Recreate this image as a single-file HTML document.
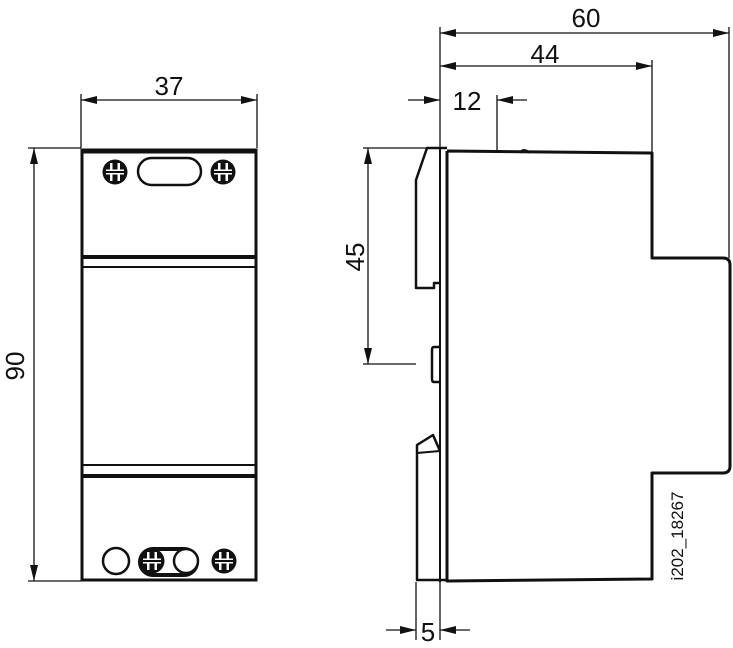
<!DOCTYPE html>
<html><head><meta charset="utf-8"><style>
html,body{margin:0;padding:0;background:#fff;}
svg{display:block;}
text{font-family:"Liberation Sans",Arial,sans-serif;fill:#111;}
</style></head><body>
<svg width="733" height="648" viewBox="0 0 733 648" xmlns="http://www.w3.org/2000/svg">
<defs>
<marker id="a" viewBox="0 0 16 8" refX="16" refY="4" markerWidth="16" markerHeight="8" markerUnits="userSpaceOnUse" orient="auto-start-reverse"><path d="M0,0 L16,4 L0,8 z" fill="#111"/></marker>
<g id="s">
<circle cx="0" cy="0" r="12.5" fill="#111"/>
<rect x="-9" y="-2.5" width="18" height="5" fill="#fff"/>
<rect x="-5" y="-9" width="2.5" height="18" fill="#fff"/>
<rect x="2.5" y="-9" width="2.5" height="18" fill="#fff"/>
<rect x="-9" y="-1" width="18" height="2" fill="#111"/>
</g>
</defs>
<g stroke="#111" stroke-width="1.3" fill="none">
<line x1="81" y1="94" x2="81" y2="148"/>
<line x1="257" y1="94" x2="257" y2="148"/>
<line x1="81" y1="100" x2="257" y2="100" marker-start="url(#a)" marker-end="url(#a)"/>
<line x1="28" y1="148" x2="81" y2="148"/>
<line x1="28" y1="581" x2="81" y2="581"/>
<line x1="34" y1="148" x2="34" y2="581" marker-start="url(#a)" marker-end="url(#a)"/>
<line x1="440" y1="27" x2="440" y2="148"/>
<line x1="729" y1="27" x2="729" y2="258"/>
<line x1="440" y1="33" x2="729" y2="33" marker-start="url(#a)" marker-end="url(#a)"/>
<line x1="652" y1="60" x2="652" y2="153"/>
<line x1="440" y1="66" x2="652" y2="66" marker-start="url(#a)" marker-end="url(#a)"/>
<line x1="497" y1="95" x2="497" y2="150"/>
<line x1="408" y1="100" x2="440" y2="100" marker-end="url(#a)"/>
<line x1="527" y1="100" x2="497" y2="100" marker-end="url(#a)"/>
<line x1="363" y1="148" x2="427" y2="148"/>
<line x1="363" y1="364" x2="416" y2="364"/>
<line x1="368" y1="148" x2="368" y2="364" marker-start="url(#a)" marker-end="url(#a)"/>
<line x1="416" y1="582" x2="416" y2="640"/>
<line x1="440" y1="582" x2="440" y2="640"/>
<line x1="386" y1="630" x2="416" y2="630" marker-end="url(#a)"/>
<line x1="470" y1="630" x2="440" y2="630" marker-end="url(#a)"/>
</g>
<g font-size="26">
<text x="169" y="95" text-anchor="middle">37</text>
<text x="586" y="27" text-anchor="middle">60</text>
<text x="545" y="63" text-anchor="middle">44</text>
<text x="467" y="110" text-anchor="middle">12</text>
<text x="428" y="641" text-anchor="middle">5</text>
<text transform="translate(24,366) rotate(-90)" text-anchor="middle">90</text>
<text transform="translate(364,257) rotate(-90)" text-anchor="middle">45</text>
</g>
<text transform="translate(683,536) rotate(-90)" text-anchor="middle" font-size="17">i202_18267</text>

<g stroke="#111" fill="none">
<rect x="82" y="150" width="174" height="430" stroke-width="3"/>
<line x1="82" y1="151" x2="256" y2="151" stroke-width="5"/>
<line x1="82" y1="257" x2="256" y2="257" stroke-width="4"/>
<line x1="82" y1="267" x2="256" y2="267" stroke-width="2"/>
<line x1="82" y1="465" x2="256" y2="465" stroke-width="2"/>
<line x1="82" y1="476" x2="256" y2="476" stroke-width="4"/>
<rect x="138" y="158" width="63" height="27" rx="13.5" stroke-width="2.5"/>
<rect x="140" y="549" width="57" height="26" rx="13" stroke-width="4"/>
<circle cx="116" cy="561" r="13" stroke-width="2.5"/>
<circle cx="186" cy="561" r="12" stroke-width="2.5" fill="#fff"/>
</g>
<use href="#s" transform="translate(115,172)"/>
<use href="#s" transform="translate(223,172)"/>
<use href="#s" transform="translate(152,561)"/>
<use href="#s" transform="translate(224,561)"/>

<g stroke="#111" fill="none" stroke-linejoin="round">
<path d="M447,151 L447,581 L652,579 L652,473 L723,473 Q730,473 730,466 L730,265 Q730,258 723,258 L652,258 L652,153 L447,151" stroke-width="3"/>
<line x1="440" y1="148" x2="440" y2="582" stroke-width="2"/>
<path d="M447,148 L427,148 L416,180 L416,288 L434,288 L434,283 L440,283" stroke-width="2.5"/>
<path d="M440,347 L434,347 Q432,347 432,350 L432,379 Q432,382 434,382 L440,382" stroke-width="2.5"/>
<path d="M440,451 L433,435 L417,445 L417,580 L447,580" stroke-width="2.5"/>
<line x1="417" y1="453" x2="440" y2="451" stroke-width="2"/>
<path d="M520,153 Q523,147 530,153" stroke-width="2"/>
</g>
</svg>
</body></html>
